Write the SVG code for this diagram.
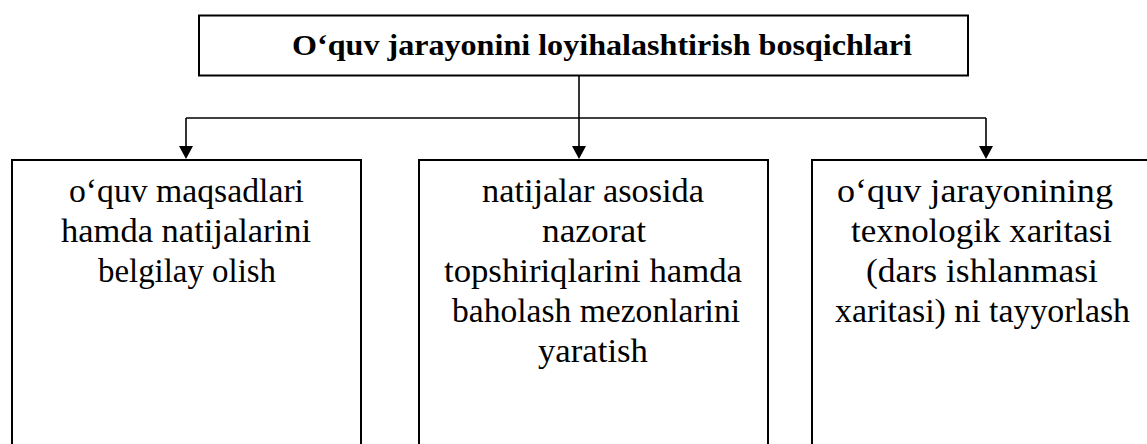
<svg xmlns="http://www.w3.org/2000/svg" width="1147" height="444" viewBox="0 0 1147 444">
<style>
.box{fill:#fff;stroke:#000;stroke-width:2}
.t{font-family:"Liberation Serif","Times New Roman",serif;font-size:33px;fill:#000;text-anchor:middle}
.title{font-family:"Liberation Serif","Times New Roman",serif;font-size:30px;font-weight:bold;fill:#000;text-anchor:middle}
.c{fill:none;stroke:#000;stroke-width:1.6}
</style>
<rect width="1147" height="444" fill="#fff"/>
<g id="connectors">
<line class="c" x1="579" y1="76" x2="579" y2="118"/>
<line class="c" x1="186" y1="118" x2="986" y2="118"/>
<line class="c" x1="186" y1="118" x2="186" y2="146"/>
<path d="M179,146 L193,146 L186,159 Z" fill="#000"/>
<line class="c" x1="579" y1="118" x2="579" y2="146"/>
<path d="M572,146 L586,146 L579,159 Z" fill="#000"/>
<line class="c" x1="986" y1="118" x2="986" y2="146"/>
<path d="M979,146 L993,146 L986,159 Z" fill="#000"/>
</g>
<g id="title">
<rect class="box" x="199" y="15.5" width="769" height="60"/>
<text class="title" x="602" y="55" textLength="620" lengthAdjust="spacingAndGlyphs">O‘quv jarayonini loyihalashtirish bosqichlari</text>
</g>
<g id="step1">
<rect class="box" x="12" y="160" width="349" height="300"/>
<text class="t" x="186.5" y="202" textLength="235" lengthAdjust="spacingAndGlyphs">o‘quv maqsadlari</text>
<text class="t" x="186" y="242" textLength="250" lengthAdjust="spacingAndGlyphs">hamda natijalarini</text>
<text class="t" x="187" y="282" textLength="178" lengthAdjust="spacingAndGlyphs">belgilay olish</text>
</g>
<g id="step2">
<rect class="box" x="419" y="160" width="349" height="300"/>
<text class="t" x="593" y="202" textLength="222" lengthAdjust="spacingAndGlyphs">natijalar asosida</text>
<text class="t" x="594" y="242" textLength="104" lengthAdjust="spacingAndGlyphs">nazorat</text>
<text class="t" x="593" y="282" textLength="298" lengthAdjust="spacingAndGlyphs">topshiriqlarini hamda</text>
<text class="t" x="596" y="322" textLength="288" lengthAdjust="spacingAndGlyphs">baholash mezonlarini</text>
<text class="t" x="593" y="362" textLength="110" lengthAdjust="spacingAndGlyphs">yaratish</text>
</g>
<g id="step3">
<rect class="box" x="812" y="160" width="345" height="300"/>
<text class="t" x="975" y="202" textLength="276" lengthAdjust="spacingAndGlyphs">o‘quv jarayonining</text>
<text class="t" x="981.5" y="242" textLength="261" lengthAdjust="spacingAndGlyphs">texnologik xaritasi</text>
<text class="t" x="982" y="282" textLength="232" lengthAdjust="spacingAndGlyphs">(dars ishlanmasi</text>
<text class="t" x="982.5" y="322" textLength="295" lengthAdjust="spacingAndGlyphs">xaritasi) ni tayyorlash</text>
</g>
</svg>
